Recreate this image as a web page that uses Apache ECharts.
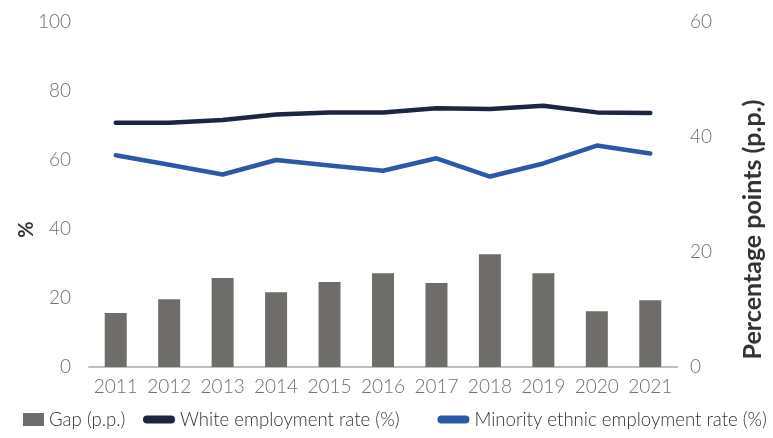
<!DOCTYPE html>
<html>
<head>
<meta charset="utf-8">
<script src="https://cdn.jsdelivr.net/npm/echarts@6/dist/echarts.min.js"></script>
<style>
    html, body { margin: 0; padding: 0; background: #fff; }
    #chart { width: 773px; height: 438px; }
</style>
</head>
<body>
<div id="chart"></div>
<script>
const years = ['2011', '2012', '2013', '2014', '2015', '2016', '2017', '2018', '2019', '2020', '2021'];
const gap = [9.4, 11.8, 15.5, 13.0, 14.8, 16.3, 14.6, 19.6, 16.3, 9.7, 11.6];
const whiteRate = [70.8, 70.8, 71.6, 73.2, 73.8, 73.8, 75.0, 74.8, 75.7, 73.8, 73.6];
const minorityRate = [61.4, 58.6, 55.8, 60.0, 58.4, 56.9, 60.5, 55.2, 59.0, 64.2, 61.9];

const font = 'Lato, sans-serif';
const tickColor = '#707070';
const legendText = {
    color: '#333',
    fontSize: 18.6,
    fontWeight: 300,
    fontFamily: font
};
const lineIcon = 'path://M4,0h24a4,4 0 0 1 0,8h-24a4,4 0 0 1 0,-8z';

let myChart = echarts.init(document.getElementById('chart'));

let option = {
    animation: false,
    textStyle: { fontFamily: font },
    grid: {
        left: 89,
        right: 68,
        top: 22,
        bottom: 71
    },
    legend: [
        {
            left: 18,
            bottom: 4,
            itemWidth: 21,
            itemHeight: 13,
            textStyle: legendText,
            data: [{ name: 'Gap (p.p.)', icon: 'rect' }]
        },
        {
            left: 138,
            bottom: 4,
            width: 700,
            itemGap: 38,
            itemWidth: 32,
            itemHeight: 8,
            textStyle: legendText,
            data: [
                { name: 'White employment rate (%)', icon: lineIcon },
                { name: 'Minority ethnic employment rate (%)', icon: lineIcon }
            ]
        }
    ],
    xAxis: {
        type: 'category',
        data: years,
        axisLine: {
            lineStyle: { color: '#bfbfbf', width: 2 }
        },
        axisTick: { show: false },
        axisLabel: {
            color: tickColor,
            fontSize: 19,
            fontWeight: 300,
            interval: 0,
            margin: 10
        }
    },
    yAxis: [
        {
            type: 'value',
            min: 0,
            max: 100,
            interval: 20,
            splitLine: { show: false },
            axisLine: { show: false },
            axisTick: { show: false },
            axisLabel: {
                color: tickColor,
                fontSize: 19,
                fontWeight: 300,
                margin: 18
            },
            name: '%',
            nameLocation: 'middle',
            nameGap: 52,
            nameMoveOverlap: false,
            nameTextStyle: {
                color: '#333',
                fontSize: 20,
                fontWeight: 'bold',
                padding: [0, 70, 0, 0]
            }
        },
        {
            type: 'value',
            min: 0,
            max: 60,
            interval: 20,
            position: 'right',
            splitLine: { show: false },
            axisLine: { show: false },
            axisTick: { show: false },
            axisLabel: {
                color: tickColor,
                fontSize: 19,
                fontWeight: 300,
                margin: 13
            },
            name: 'Percentage points (p.p.)',
            nameLocation: 'middle',
            nameGap: 63,
            nameTextStyle: {
                color: '#333',
                fontSize: 25,
                fontWeight: 'bold',
                padding: [0, 70, 0, 0]
            }
        }
    ],
    series: [
        {
            name: 'Gap (p.p.)',
            type: 'bar',
            yAxisIndex: 1,
            barWidth: 22,
            itemStyle: { color: '#6f6d69' },
            data: gap
        },
        {
            name: 'White employment rate (%)',
            type: 'line',
            symbol: 'none',
            lineStyle: { width: 4.5, color: '#1c2541', cap: 'round', join: 'round' },
            itemStyle: { color: '#1c2541' },
            data: whiteRate
        },
        {
            name: 'Minority ethnic employment rate (%)',
            type: 'line',
            symbol: 'none',
            lineStyle: { width: 4.5, color: '#2b58a8', cap: 'round', join: 'round' },
            itemStyle: { color: '#2b58a8' },
            data: minorityRate
        }
    ]
};

myChart.setOption(option);
</script>
</body>
</html>
